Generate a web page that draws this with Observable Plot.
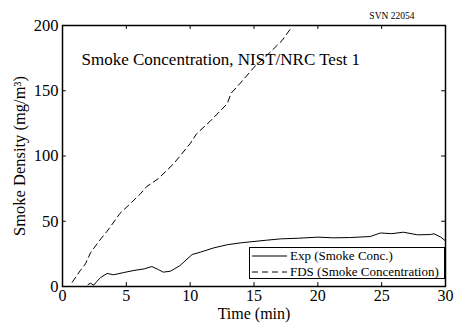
<!DOCTYPE html>
<html>
<head>
<meta charset="utf-8">
<script src="https://cdn.jsdelivr.net/npm/d3@7"></script>
<script src="https://cdn.jsdelivr.net/npm/@observablehq/plot@0.6"></script>
<style>
html,body{margin:0;padding:0;background:#fff;}
#wrap{position:relative;width:456px;height:326px;font-family:"Liberation Serif","DejaVu Serif","Times New Roman",Times,serif;}
#wrap svg, #wrap svg text{font-family:"Liberation Serif","DejaVu Serif","Times New Roman",Times,serif !important;}
#legend{position:absolute;left:249px;top:247px;width:196px;height:32px;border:1px solid #000;background:#fff;box-sizing:border-box;font-size:13px;}
#legend .row{position:absolute;left:2px;height:14px;display:flex;align-items:center;white-space:nowrap;}
#legend svg{margin-right:3px;}
</style>
</head>
<body>
<div id="wrap"></div>
<script>
const chartTitle = "Smoke Concentration, NIST/NRC Test 1";
const stamp = "SVN 22054";
const xLabel = "Time (min)";
const yLabel = "Smoke Density (mg/m³)";
const seriesNames = ["Exp (Smoke Conc.)", "FDS (Smoke Concentration)"];
const xTicks = [0, 5, 10, 15, 20, 25, 30];
const yTicks = [0, 50, 100, 150, 200];

const expTime = [2.0,2.2,2.45,2.7,3.0,3.5,4.0,4.8,5.6,6.4,7.0,7.5,7.9,8.45,9.2,10.15,10.8,11.85,12.9,14,15,16,17.1,18.5,20,21.2,22.5,24.1,24.9,25.8,26.7,27.8,28.8,29.1,29.6,30];
const expValue = [1.5,2.5,1,4,7,10,9,10.7,12.3,13.5,15.3,13,11,11.7,16,24.5,26.3,29.6,32,33.5,34.5,35.5,36.5,37,37.8,37.3,37.5,38.3,41,40.5,41.6,39.6,39.8,40.4,38,35];

const fdsTime = [0.76,1.4,1.8,2.2,3.0,3.5,4.5,5.3,6.1,6.6,7.5,8.7,10,10.5,11.6,12.9,13.2,13.9,15,16,17.2,17.9];
const fdsValue = [3.3,12.3,17.4,26,36.5,42.4,56,63.4,71,76.6,82.6,94,109.5,117,127,140,148,155.5,168,177,188.5,198];

const exp = expTime.map((t,i)=>({t, v: expValue[i]}));
const fds = fdsTime.map((t,i)=>({t, v: fdsValue[i]}));

const serif = '"Liberation Serif", "DejaVu Serif", "Times New Roman", Times, serif';
const chart = Plot.plot({
  width: 456, height: 326,
  marginLeft: 62, marginRight: 11, marginTop: 25, marginBottom: 40,
  style: {fontFamily: serif, fontSize: "16px", color: "#000", background: "#fff"},
  x: {domain: [0, 30], ticks: xTicks, label: null},
  y: {domain: [0, 200], ticks: yTicks, label: null},
  marks: [
    Plot.axisX(xTicks, {anchor: "bottom", tickSize: 0, tickPadding: 3, fontSize: 16, label: null}),
    Plot.axisY(yTicks, {anchor: "left", tickSize: 0, tickPadding: 4, fontSize: 16.5, label: null}),
    Plot.ruleX(xTicks, {x: d=>d, y1: 0, y2: 3, stroke: "#000"}),
    Plot.ruleX(xTicks, {x: d=>d, y1: 197, y2: 200, stroke: "#000"}),
    Plot.ruleY(yTicks, {y: d=>d, x1: 0, x2: 0.3, stroke: "#000"}),
    Plot.ruleY(yTicks, {y: d=>d, x1: 29.7, x2: 30, stroke: "#000"}),
    Plot.line(exp, {x: "t", y: "v", stroke: "#000", strokeWidth: 1}),
    Plot.line(fds, {x: "t", y: "v", stroke: "#000", strokeWidth: 1, strokeDasharray: "6,4"}),
    Plot.frame({stroke: "#000", strokeWidth: 1.5}),
    Plot.text([chartTitle], {frameAnchor: "top-left", dx: 19, dy: 27, fontSize: 17, textAnchor: "start"}),
    Plot.text([stamp], {frameAnchor: "top-right", dx: -31, dy: -13, fontSize: 9.5, textAnchor: "end"}),
    Plot.text([xLabel], {frameAnchor: "bottom", dy: 32.5, fontSize: 16}),
    Plot.text([yLabel], {frameAnchor: "left", dx: -43, rotate: -90, fontSize: 16.5, textAnchor: "middle"})
  ]
});
const wrap = document.getElementById("wrap");
wrap.appendChild(chart);

const legend = document.createElement("div");
legend.id = "legend";
const dashes = [null, "6,4"];
seriesNames.forEach((name, i) => {
  const row = document.createElement("div");
  row.className = "row";
  row.style.top = (1 + i * 16) + "px";
  row.innerHTML = `<svg width="35" height="4"><line x1="0" y1="2" x2="35" y2="2" stroke="#000" stroke-width="1" ${dashes[i] ? `stroke-dasharray="${dashes[i]}"` : ""}/></svg><span>${name}</span>`;
  legend.appendChild(row);
});
wrap.appendChild(legend);
</script>
</body>
</html>
